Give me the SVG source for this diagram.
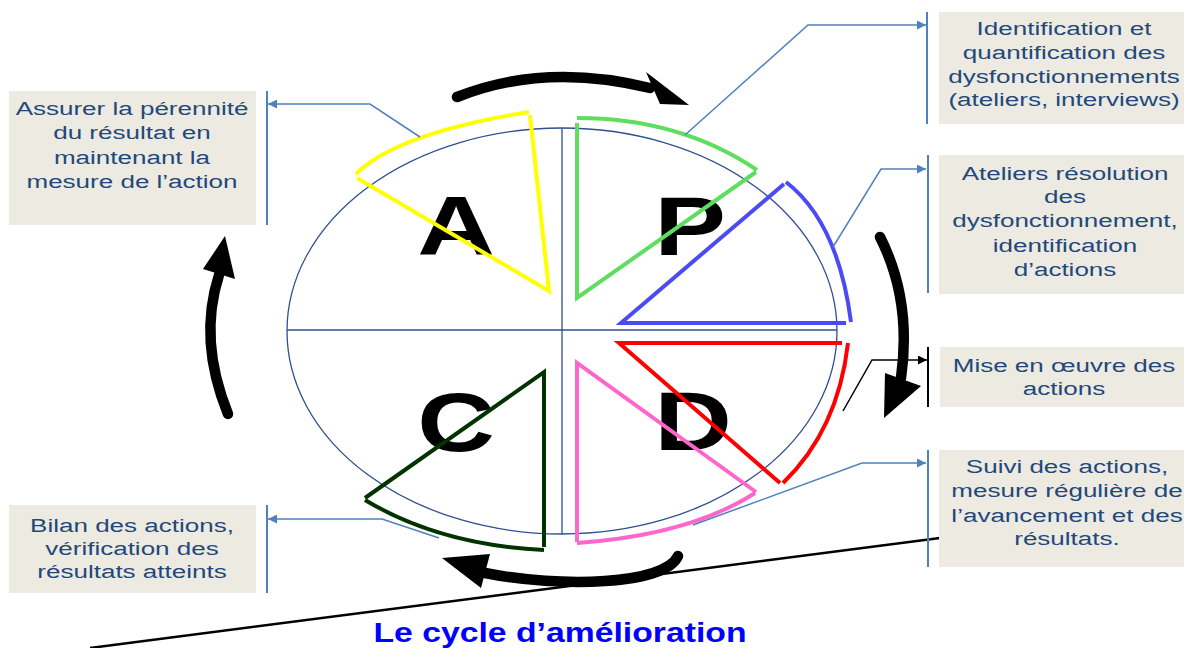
<svg xmlns="http://www.w3.org/2000/svg" width="1184" height="648" viewBox="0 0 1184 648">
<style>
.box{fill:#EDEAE1;stroke:none}
.bt{font-family:"Liberation Sans",Arial,sans-serif;font-size:19px;fill:#1F497D;text-anchor:middle}
.big{font-family:"Liberation Sans",Arial,sans-serif;font-size:84px;font-weight:bold;fill:#000;text-anchor:middle}
.sec{fill:none;stroke-width:4;stroke-linejoin:miter}
.con{fill:none;stroke:#4F81BD;stroke-width:1.5}
.bar{stroke:#4F81BD;stroke-width:2}
.thick{fill:none;stroke:#000;stroke-width:10.5;stroke-linecap:round}
</style>
<defs>
<marker id="ab" viewBox="0 0 10 10" refX="10" refY="5" markerUnits="userSpaceOnUse" markerWidth="11" markerHeight="9" orient="auto"><path d="M0,0 L10,5 L0,10 z" fill="#4F81BD"/></marker>
<marker id="ak" viewBox="0 0 10 10" refX="10" refY="5" markerUnits="userSpaceOnUse" markerWidth="11" markerHeight="9" orient="auto"><path d="M0,0 L10,5 L0,10 z" fill="#000"/></marker>
</defs>
<rect width="1184" height="648" fill="#fff"/>

<g id="baseline-line"><line x1="90" y1="648" x2="940" y2="538" stroke="#000" stroke-width="2.5"/></g>

<g id="cycle">
<ellipse cx="562" cy="331" rx="275" ry="203" fill="none" stroke="#2F4F8F" stroke-width="1.3"/>
<line x1="562" y1="128" x2="562" y2="534" stroke="#2F4F8F" stroke-width="1.3"/>
<line x1="287" y1="330" x2="837" y2="330" stroke="#2F4F8F" stroke-width="1.3"/>
</g>

<g id="letters">
<text class="big" transform="translate(456,0) scale(1.28,1)" x="0" y="255">A</text>
<text class="big" transform="translate(690,0) scale(1.28,1)" x="0" y="255">P</text>
<text class="big" transform="translate(456,0) scale(1.28,1)" x="0" y="451">C</text>
<text class="big" transform="translate(693,0) scale(1.28,1)" x="0" y="450">D</text>
</g>

<g id="sector-A"><path class="sec" stroke="#FFFF00" d="M356,174 Q397,133 529,112 M530,115 L549,291 L357,178"/></g>
<g id="sector-P1"><path class="sec" stroke="#5EDD5E" d="M577,118 Q680,118 757,170 M577,123 L577,298 L756,172"/></g>
<g id="sector-P2"><path class="sec" stroke="#4B4BF5" d="M786,182 Q838,222 851,322 M846,323 L621,323 L784,184"/></g>
<g id="sector-D1"><path class="sec" stroke="#FF0000" d="M848,343 Q838,430 783,483 M842,343 L619,343 L780,483"/></g>
<g id="sector-D2"><path class="sec" stroke="#FF66CC" d="M577,543 Q690,535 755,493 M577,542 L577,363 L756,492"/></g>
<g id="sector-C"><path class="sec" stroke="#003300" d="M365,500 Q440,545 544,550 M544,547 L544,372 L365,498"/></g>

<g id="cycle-arrows">
<path class="thick" d="M457,97 Q545,62 650,88"/>
<polygon points="646,72 689,105 660,104"/>
<path class="thick" d="M880,237 Q912,300 901,378"/>
<polygon points="921,386 884,418 885,373"/>
<path class="thick" d="M678,556 C665,585 560,588 485,573"/>
<polygon points="442,558 490,554 481,588"/>
<path class="thick" d="M228,414 Q198,340 219,275"/>
<polygon points="225,236 235,279 203,269"/>
</g>

<g id="connectors">
<polyline class="con" points="420,137 370,104 268,104" marker-end="url(#ab)"/>
<line class="bar" x1="267" y1="91" x2="267" y2="225"/>
<polyline class="con" points="685,135 808,25 926,25" marker-end="url(#ab)"/>
<line class="bar" x1="927" y1="12" x2="927" y2="124"/>
<polyline class="con" points="833,247 881,169 926,169" marker-end="url(#ab)"/>
<line class="bar" x1="928" y1="155" x2="928" y2="293"/>
<polyline class="con" style="stroke:#000" points="843,411 872,360 927,360" marker-end="url(#ak)"/>
<line x1="928" y1="347" x2="928" y2="407" stroke="#000" stroke-width="2"/>
<polyline class="con" points="693,525 862,463 926,463" marker-end="url(#ab)"/>
<line class="bar" x1="928" y1="450" x2="928" y2="567"/>
<polyline class="con" points="439,538 382,519 268,519" marker-end="url(#ab)"/>
<line class="bar" x1="267" y1="505" x2="267" y2="593"/>
</g>

<g id="box-act">
<rect class="box" x="9" y="91" width="247" height="134"/>
<g transform="translate(132,0) scale(1.37,1)">
<text class="bt" x="0" y="115">Assurer la pérennité</text>
<text class="bt" x="0" y="139.5">du résultat en</text>
<text class="bt" x="0" y="164">maintenant la</text>
<text class="bt" x="0" y="188">mesure de l’action</text>
</g>
</g>

<g id="box-plan1">
<rect class="box" x="939" y="12" width="245" height="112"/>
<g transform="translate(1064,0) scale(1.37,1)">
<text class="bt" x="0" y="35">Identification et</text>
<text class="bt" x="0" y="59">quantification des</text>
<text class="bt" x="0" y="83">dysfonctionnements</text>
<text class="bt" x="0" y="106">(ateliers, interviews)</text>
</g>
</g>

<g id="box-plan2">
<rect class="box" x="939" y="155" width="245" height="139"/>
<g transform="translate(1065,0) scale(1.37,1)">
<text class="bt" x="0" y="180">Ateliers résolution</text>
<text class="bt" x="0" y="203">des</text>
<text class="bt" x="0" y="227">dysfonctionnement,</text>
<text class="bt" x="0" y="252">identification</text>
<text class="bt" x="0" y="276">d’actions</text>
</g>
</g>

<g id="box-do1">
<rect class="box" x="940" y="347" width="244" height="60"/>
<g transform="translate(1064,0) scale(1.37,1)">
<text class="bt" x="0" y="372">Mise en œuvre des</text>
<text class="bt" x="0" y="395">actions</text>
</g>
</g>

<g id="box-do2">
<rect class="box" x="939" y="450" width="245" height="117"/>
<g transform="translate(1067,0) scale(1.37,1)">
<text class="bt" x="0" y="473">Suivi des actions,</text>
<text class="bt" x="0" y="497">mesure régulière de</text>
<text class="bt" x="0" y="522">l’avancement et des</text>
<text class="bt" x="0" y="545">résultats.</text>
</g>
</g>

<g id="box-check">
<rect class="box" x="9" y="505" width="247" height="88"/>
<g transform="translate(132,0) scale(1.37,1)">
<text class="bt" x="0" y="532">Bilan des actions,</text>
<text class="bt" x="0" y="555">vérification des</text>
<text class="bt" x="0" y="578">résultats atteints</text>
</g>
</g>

<g id="title">
<text transform="translate(560,0) scale(1.25,1)" x="0" y="642" style="font-family:'Liberation Sans',Arial,sans-serif;font-size:27px;font-weight:bold;fill:#0000FF;text-anchor:middle">Le cycle d’amélioration</text>
</g>
</svg>
